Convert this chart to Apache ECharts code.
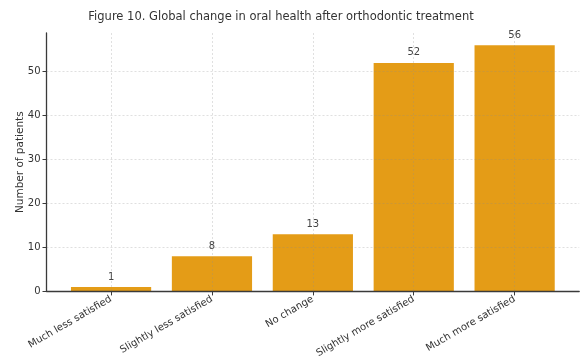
<!DOCTYPE html>
<html>
<head>
<meta charset="utf-8">
<script src="https://cdn.jsdelivr.net/npm/echarts@6/dist/echarts.min.js"></script>
<style>
  html, body { margin: 0; padding: 0; background: #fff; }
  #chart { width: 581px; height: 360px; }
</style>
</head>
<body>
<div id="chart"></div>
<script>
// Patient-reported change in oral health after orthodontic treatment
const categories = [
  'Much less satisfied',
  'Slightly less satisfied',
  'No change',
  'Slightly more satisfied',
  'Much more satisfied'
];
const patients = [1, 8, 13, 52, 56];
const yTicks = [0, 10, 20, 30, 40, 50];
const xTicks = categories.map((c, i) => i);

const FONT = 'DejaVu Sans';
const AXIS = '#3a3a3a';
const GRID = 'rgba(140,140,140,0.35)';

const chart = echarts.init(document.getElementById('chart'), null, { renderer: 'canvas' });

chart.setOption({
  animation: false,
  backgroundColor: '#ffffff',
  textStyle: { fontFamily: FONT },
  title: {
    text: 'Figure 10. Global change in oral health after orthodontic treatment',
    left: 276,
    textAlign: 'center',
    top: 6,
    textStyle: { fontFamily: FONT, fontSize: 11.5, fontWeight: 'normal', color: '#333' }
  },
  grid: { left: 46.5, right: 1.8, top: 33, bottom: 67.3, containLabel: false },
  xAxis: {
    type: 'value',
    min: -0.64,
    max: 4.64,
    z: 3,
    axisLine: { show: true, onZero: false, lineStyle: { color: AXIS, width: 1.3 } },
    axisTick: { show: true, length: 4, customValues: xTicks, lineStyle: { color: AXIS, width: 1 } },
    axisLabel: {
      customValues: xTicks,
      rotate: 30,
      margin: 7,
      fontFamily: FONT,
      fontSize: 10,
      color: '#333',
      formatter: v => categories[Math.round(v)] || ''
    },
    splitLine: { show: true, lineStyle: { color: GRID, width: 0.8, type: [2, 2] } }
  },
  yAxis: {
    type: 'value',
    min: 0,
    max: 58.8,
    z: 3,
    name: 'Number of patients',
    nameLocation: 'middle',
    nameGap: 21,
    nameMoveOverlap: false,
    nameTextStyle: { fontFamily: FONT, fontSize: 10.5, color: '#333' },
    axisLine: { show: true, onZero: false, lineStyle: { color: AXIS, width: 1.3 } },
    axisTick: { show: true, length: 4, customValues: yTicks, lineStyle: { color: AXIS, width: 1 } },
    axisLabel: { customValues: yTicks, margin: 6, fontFamily: FONT, fontSize: 10, color: '#333' },
    splitLine: { show: true, lineStyle: { color: GRID, width: 0.8, type: [2, 2] } }
  },
  series: [{
    type: 'bar',
    data: patients.map((v, i) => [i, v]),
    barWidth: '79.5%',
    itemStyle: { color: '#E49C17' },
    label: {
      show: true,
      position: 'top',
      distance: 5,
      fontFamily: FONT,
      fontSize: 10,
      color: '#444',
      formatter: p => p.value[1]
    }
  }]
});
</script>
</body>
</html>
